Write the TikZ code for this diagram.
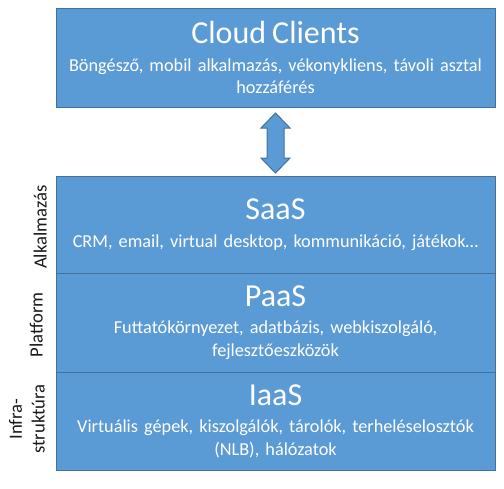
\documentclass[tikz,border=0pt]{standalone}
\usepackage{fontspec}
\setmainfont{Carlito}
\usetikzlibrary{positioning}
\usetikzlibrary{calc}
\definecolor{layerblue}{HTML}{5B9BD5}
\definecolor{layeredge}{HTML}{41719C}
\tikzset{
	layer/.style={draw=layeredge, fill=layerblue, text=white, line width=0.75pt, outer sep=0pt, inner sep=0pt,
		minimum width=329.25pt, text width=325pt, align=center, font=\fontsize{13.7}{16.8}\selectfont},
	sidelabel/.style={rotate=90, inner sep=0pt, align=center, text=black!90, font=\fontsize{14}{17.1}\selectfont},
	bigarrow/.style={draw=layeredge, fill=layerblue, line width=0.75pt, line join=miter}
}
\newcommand{\layertitle}[1]{{\fontsize{24}{24}\selectfont #1}\\[3.9pt]}

\begin{document}
\begin{tikzpicture}[x=0.75pt, y=-0.75pt]
\useasboundingbox (0,0) rectangle (504,489);

\node[layer, minimum height=74.25pt] (cloud) at (275.5,57.5) {\layertitle{Cloud Clients}Böngésző, mobil alkalmazás, vékonykliens, távoli asztal\\hozzáférés};
\node[layer, minimum height=72.75pt] (saas) at (275.5,224.5) {\layertitle{SaaS}CRM, email, virtual desktop, kommunikáció, játékok…};
\node[layer, minimum height=74.25pt, below=0pt of saas] (paas) {\layertitle{PaaS}Futtatókörnyezet, adatbázis, webkiszolgáló,\\fejlesztőeszközök};
\node[layer, minimum height=73.5pt, below=0pt of paas] (iaas) {\layertitle{IaaS}Virtuális gépek, kiszolgálók, tárolók, terheléselosztók\\(NLB), hálózatok};

\coordinate (atop) at ($(cloud.south)+(0,6)$);
\coordinate (abot) at ($(saas.north)+(0,-3)$);
\draw[bigarrow] (atop) -- ++(14.5,15) -- ++(-6,0) -- ($(abot)+(8.5,-15)$) -- ++(6,0) -- (abot)
	-- ++(-14.5,-15) -- ++(6,0) -- ($(atop)+(-8.5,15)$) -- ++(-6,0) -- cycle;

\node[sidelabel, anchor=base] (alk) at (46.7,227) {Alkalmazás};
\node[sidelabel, anchor=base] (plat) at (42.7,325) {Platform};
\node[sidelabel] (infra) at (27,419) {Infra-\\struktúra};
\end{tikzpicture}
\end{document}
